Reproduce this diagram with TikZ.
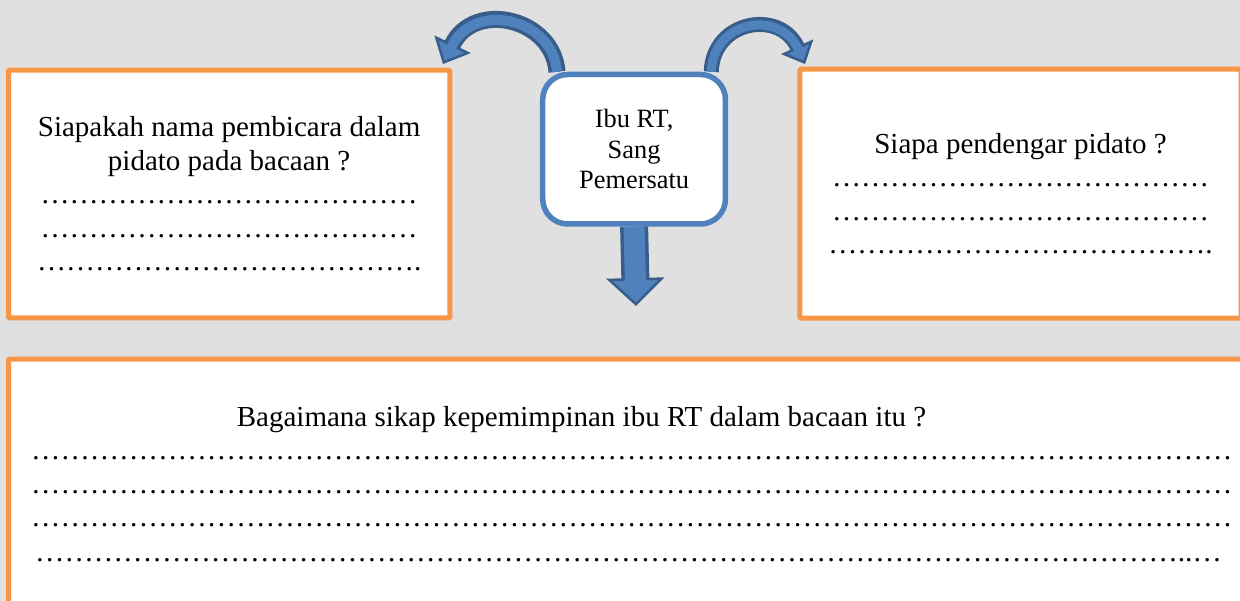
\documentclass[tikz,border=0pt]{standalone}
\usepackage{fontspec}
\setmainfont{Liberation Serif}
\usetikzlibrary{arrows.meta}

\definecolor{qorange}{RGB}{247,150,70}
\definecolor{hubblue}{RGB}{79,129,189}
\definecolor{hubdark}{RGB}{56,93,138}
\definecolor{pagegray}{RGB}{224,224,224}

% row of ellipsis glyphs for the answer lines
\newcommand{\ellrun}[1]{\foreach \k in {1,...,#1}{…}}

\begin{document}
\begin{tikzpicture}[x=1pt,y=-1pt,
  qbox/.style={draw=qorange,line width=5pt,fill=white,rounded corners=1pt,inner sep=0pt,align=center,font=\fontsize{29}{33.5}\selectfont},
  hub/.style={draw=hubblue,line width=5.5pt,fill=white,rounded corners=25pt,minimum width=182.75pt,minimum height=149.5pt,inner sep=0pt,text depth=0pt,align=center,font=\fontsize{26.4}{30.5}\selectfont},
  dotline/.style={anchor=base west,inner sep=0pt,font=\fontsize{29.3}{33.5}\selectfont},
  shaft/.style={hubdark,line width=#1},
  core/.style={hubblue,line width=#1}]
% Background
\useasboundingbox (0,0) rectangle (1240,601);
\clip (0,0) rectangle (1240,601);
\fill[pagegray] (0,0) rectangle (1240,601);
% Question boxes
\node[qbox,minimum width=441.3pt,minimum height=247.6pt] (speaker) at (229.15,194) {Siapakah nama pembicara dalam\\pidato pada bacaan ?\\\ellrun{13}\\\ellrun{13}\\\ellrun{13}.};
\node[qbox,minimum width=441.3pt,minimum height=249pt] (listener) at (1020.5,193.7) {Siapa pendengar pidato ?\\\ellrun{13}\\\ellrun{13}\\\ellrun{13}.};
\node[qbox,minimum width=1251.5pt,minimum height=280pt] (attitude) at (634.25,499.2) {};
\node[inner sep=0pt,anchor=base,font=\fontsize{29}{33.5}\selectfont] (attq) at (581.5,427) {Bagaimana sikap kepemimpinan ibu RT dalam bacaan itu ?};
\foreach \i in {0,1,2}
  \node[dotline] (attl\i) at (31,459.5+33.6*\i) {\ellrun{41}};
\node[dotline] (attl3) at (35,561.5) {\ellrun{39}..…};
% Centre topic
\node[hub] (hub) at (634.1,149.25) {Ibu RT,\\Sang\\Pemersatu};
% Block arrows
\coordinate (ltip) at (443,64);
\coordinate (rtip) at (805,64);
\coordinate (dtip) at (636,306);
\draw[shaft=17pt,-{Triangle[width=40pt,length=22pt,fill=hubblue,line width=2.5pt]}] ([xshift=17pt]hub.north west) .. controls (553,18) and (474,0) .. (ltip);
\draw[core=10pt,shorten >=19pt] ([xshift=17pt]hub.north west) .. controls (553,18) and (474,0) .. (ltip);
\draw[shaft=15pt,-{Triangle[width=35pt,length=19pt,fill=hubblue,line width=2.5pt]}] ([xshift=-17pt]hub.north east) .. controls (713,20) and (780,9) .. (rtip);
\draw[core=9pt,shorten >=16pt] ([xshift=-17pt]hub.north east) .. controls (713,20) and (780,9) .. (rtip);
\draw[shaft=28pt,-{Triangle[width=58pt,length=28pt,fill=hubblue,line width=2.5pt]}] (hub.south) -- (dtip);
\draw[core=21pt,shorten >=25pt] (hub.south) -- (dtip);
\end{tikzpicture}
\end{document}
